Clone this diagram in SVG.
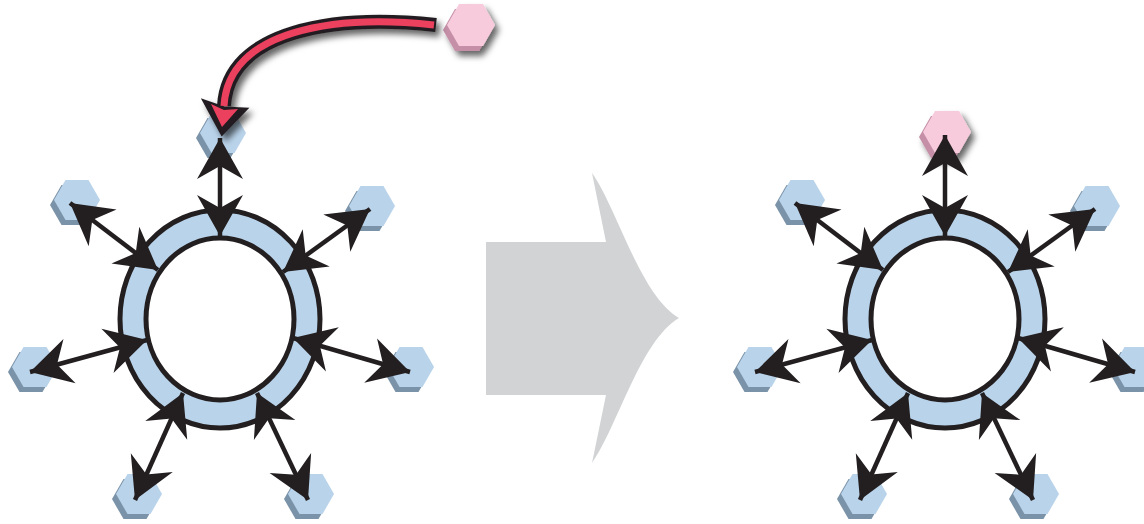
<svg xmlns="http://www.w3.org/2000/svg" xmlns:xlink="http://www.w3.org/1999/xlink" width="1144" height="524" viewBox="0 0 1144 524">
<style>
.ring{fill:#b9d3ea;stroke:#231f20;stroke-width:5}
.hole{fill:#ffffff;stroke:#231f20;stroke-width:5}
.conn{stroke:#231f20;stroke-width:4.5;fill:none;marker-start:url(#ah);marker-end:url(#ah)}
.bface{fill:#b9d3ea}
.bside{fill:#7b93a8}
.pface{fill:#f7cbdc}
.pside{fill:#c48fa7}
</style>
<defs>
<marker id="ah" viewBox="-48 -28 52 56" refX="0" refY="0" markerWidth="52" markerHeight="56" markerUnits="userSpaceOnUse" orient="auto-start-reverse">
<path d="M0 0 L-41 -23 L-28 0 L-41 23 Z" fill="#231f20"/>
</marker>
<filter id="sh" x="-50%" y="-50%" width="200%" height="200%">
<feDropShadow dx="4" dy="5" stdDeviation="3" flood-color="#000" flood-opacity="0.6"/>
</filter>
<path id="hexB" d="M-23 0 L-11.5 -20 L11.5 -20 L23 0 L11.5 20 L-11.5 20 Z"/>
<path id="hexP" d="M-24 0 L-12 -21 L12 -21 L24 0 L12 21 L-12 21 Z"/>
<g id="blueHex"><use xlink:href="#hexB" class="bside" x="-4" y="5"/><use xlink:href="#hexB" class="bface"/></g>
<g id="pinkHex"><use xlink:href="#hexP" class="pside" x="-4" y="5"/><use xlink:href="#hexP" class="pface"/></g>
</defs>

<g id="transition-arrow">
<path d="M486 242 L606 242 L592 173 C618 210 640 295 679 318 C640 341 618 426 592 463 L606 395 L486 395 Z" fill="#d1d3d4"/>
</g>

<g id="left-ring"><ellipse cx="220" cy="319" rx="100" ry="109" class="ring"/><ellipse cx="220" cy="319" rx="74" ry="81" class="hole"/></g>
<g id="right-ring"><ellipse cx="945" cy="319" rx="100" ry="109" class="ring"/><ellipse cx="945" cy="319" rx="74" ry="81" class="hole"/></g>

<g id="left-hex-top"><use xlink:href="#blueHex" x="223" y="133"/></g>
<g id="left-hex-ul"><use xlink:href="#blueHex" x="77" y="200"/></g>
<g id="left-hex-ur"><use xlink:href="#blueHex" x="372" y="206"/></g>
<g id="left-hex-l"><use xlink:href="#blueHex" x="35" y="367"/></g>
<g id="left-hex-r"><use xlink:href="#blueHex" x="411" y="367"/></g>
<g id="left-hex-bl"><use xlink:href="#blueHex" x="139" y="494"/></g>
<g id="left-hex-br"><use xlink:href="#blueHex" x="311" y="494"/></g>
<g id="new-hex"><use xlink:href="#pinkHex" x="471" y="25" filter="url(#sh)"/></g>

<g id="right-hex-top"><use xlink:href="#pinkHex" x="947" y="132" filter="url(#sh)"/></g>
<g id="right-hex-ul"><use xlink:href="#blueHex" x="802" y="200"/></g>
<g id="right-hex-ur"><use xlink:href="#blueHex" x="1097" y="206"/></g>
<g id="right-hex-l"><use xlink:href="#blueHex" x="760" y="367"/></g>
<g id="right-hex-r"><use xlink:href="#blueHex" x="1136" y="367"/></g>
<g id="right-hex-bl"><use xlink:href="#blueHex" x="864" y="494"/></g>
<g id="right-hex-br"><use xlink:href="#blueHex" x="1036" y="494"/></g>

<g id="connectors">
<line class="conn" x1="220" y1="138" x2="220" y2="236"/>
<line class="conn" x1="70" y1="203" x2="158" y2="270"/>
<line class="conn" x1="370" y1="209" x2="283" y2="272"/>
<line class="conn" x1="30" y1="372" x2="147" y2="340"/>
<line class="conn" x1="410" y1="372" x2="293" y2="338"/>
<line class="conn" x1="135" y1="500" x2="183" y2="393"/>
<line class="conn" x1="308" y1="500" x2="257" y2="393"/>

<line class="conn" x1="945" y1="135" x2="945" y2="236"/>
<line class="conn" x1="795" y1="203" x2="883" y2="270"/>
<line class="conn" x1="1095" y1="209" x2="1008" y2="272"/>
<line class="conn" x1="755" y1="372" x2="872" y2="340"/>
<line class="conn" x1="1135" y1="372" x2="1018" y2="338"/>
<line class="conn" x1="860" y1="500" x2="908" y2="393"/>
<line class="conn" x1="1033" y1="500" x2="982" y2="393"/>

<g id="insert-arrow" filter="url(#sh)">
<path d="M436 25 C335 14 228 30 224 106" fill="none" stroke="#231f20" stroke-width="14"/>
<path d="M222 134 L204 101 L224 108 L246 109 Z" fill="#231f20" stroke="#231f20" stroke-width="3" stroke-linejoin="miter"/>
<path d="M434 25 C335 14 228 30 224 106" fill="none" stroke="#ec3f5f" stroke-width="7"/>
<path d="M222 127 L211 104 L224 110 L238 109 Z" fill="#ec3f5f"/>
</g>
</g>
</svg>
